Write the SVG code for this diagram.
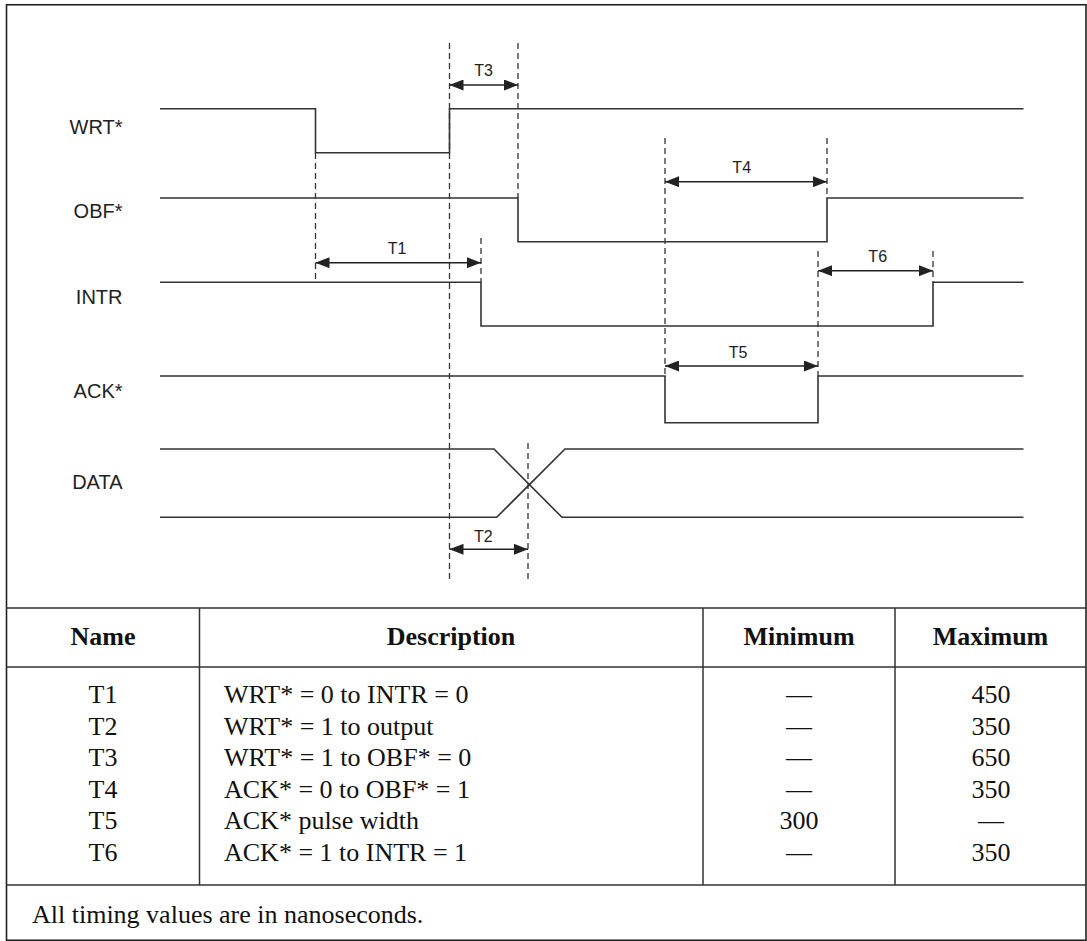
<svg xmlns="http://www.w3.org/2000/svg" width="1087" height="941" viewBox="0 0 1087 941">
<style>
.sig{fill:none;stroke:#333;stroke-width:1.6}
.dash{fill:none;stroke:#333;stroke-width:1.3;stroke-dasharray:6,4}
.arr{fill:none;stroke:#222;stroke-width:1.6;marker-start:url(#ah);marker-end:url(#ah)}
.lbl{font-family:"Liberation Sans",Arial,sans-serif;font-size:20px;fill:#222;text-anchor:end}
.tl{font-family:"Liberation Sans",Arial,sans-serif;font-size:16px;fill:#222;text-anchor:middle}
.grid{fill:none;stroke:#333;stroke-width:1.5}
.th{font-family:"Liberation Serif","Times New Roman",serif;font-size:26px;font-weight:bold;fill:#111;text-anchor:middle}
.td{font-family:"Liberation Serif","Times New Roman",serif;font-size:26px;fill:#111}
.c{text-anchor:middle}
</style>
<defs>
<marker id="ah" viewBox="0 0 14 11" refX="14" refY="5.5" markerWidth="14" markerHeight="11" markerUnits="userSpaceOnUse" orient="auto-start-reverse">
<path d="M0,0 L14,5.5 L0,11 Z" fill="#222"/>
</marker>
</defs>
<rect x="6.5" y="4.75" width="1079.5" height="935.5" fill="#fff" stroke="#222" stroke-width="1.6"/>

<g id="guides">
<line class="dash" x1="315.5" y1="153" x2="315.5" y2="282"/>
<line class="dash" x1="449.5" y1="43" x2="449.5" y2="583"/>
<line class="dash" x1="518" y1="43" x2="518" y2="198"/>
<line class="dash" x1="481" y1="238" x2="481" y2="282"/>
<line class="dash" x1="665" y1="138" x2="665" y2="376"/>
<line class="dash" x1="827" y1="138" x2="827" y2="198"/>
<line class="dash" x1="818" y1="251" x2="818" y2="376"/>
<line class="dash" x1="933" y1="251" x2="933" y2="282"/>
<line class="dash" x1="528" y1="443" x2="528" y2="583"/>
</g>

<g id="sig-wrt">
<text class="lbl" x="122.5" y="134.3">WRT*</text>
<path class="sig" d="M160,108.7 H315.5 V152.7 H449.5 V108.7 H1023.5"/>
</g>
<g id="sig-obf">
<text class="lbl" x="122.5" y="217.7">OBF*</text>
<path class="sig" d="M160,198 H518 V241.7 H827 V198 H1023.5"/>
</g>
<g id="sig-intr">
<text class="lbl" x="122.5" y="304">INTR</text>
<path class="sig" d="M160,282.3 H481 V326 H933 V282.3 H1023.5"/>
</g>
<g id="sig-ack">
<text class="lbl" x="122.5" y="398">ACK*</text>
<path class="sig" d="M160,376 H665 V422.7 H818 V376 H1023.5"/>
</g>
<g id="sig-data">
<text class="lbl" x="122.5" y="489">DATA</text>
<path class="sig" d="M160,449 H494 L562,517.3 H1023.5"/>
<path class="sig" d="M160,517.3 H496.7 L565,449 H1023.5"/>
</g>

<g id="connectors">
<line class="arr" x1="449.5" y1="85" x2="518" y2="85"/>
<line class="arr" x1="315.5" y1="262.7" x2="481" y2="262.7"/>
<line class="arr" x1="665" y1="181.7" x2="827" y2="181.7"/>
<line class="arr" x1="818" y1="270.7" x2="933" y2="270.7"/>
<line class="arr" x1="665" y1="366" x2="818" y2="366"/>
<line class="arr" x1="449.5" y1="549.3" x2="528" y2="549.3"/>
</g>
<g id="timing-labels">
<text class="tl" x="483.5" y="76.4">T3</text>
<text class="tl" x="397" y="254">T1</text>
<text class="tl" x="741.7" y="172.7">T4</text>
<text class="tl" x="877.7" y="262">T6</text>
<text class="tl" x="738" y="357.5">T5</text>
<text class="tl" x="483.3" y="541.7">T2</text>
</g>

<g id="table">
<line class="grid" x1="6.5" y1="608" x2="1086" y2="608"/>
<line class="grid" x1="6.5" y1="667" x2="1086" y2="667"/>
<line class="grid" x1="6.5" y1="885" x2="1086" y2="885"/>
<line class="grid" x1="199.5" y1="608" x2="199.5" y2="885"/>
<line class="grid" x1="703" y1="608" x2="703" y2="885"/>
<line class="grid" x1="895" y1="608" x2="895" y2="885"/>
<text class="th" x="103" y="645">Name</text>
<text class="th" x="451" y="645">Description</text>
<text class="th" x="799" y="645">Minimum</text>
<text class="th" x="990.5" y="645">Maximum</text>
<g class="td">
<text class="c" x="103" y="703">T1</text>
<text x="224" y="703">WRT* = 0 to INTR = 0</text>
<text class="c" x="799" y="703">—</text>
<text class="c" x="991" y="703">450</text>
<text class="c" x="103" y="734.6">T2</text>
<text x="224" y="734.6">WRT* = 1 to output</text>
<text class="c" x="799" y="734.6">—</text>
<text class="c" x="991" y="734.6">350</text>
<text class="c" x="103" y="766.2">T3</text>
<text x="224" y="766.2">WRT* = 1 to OBF* = 0</text>
<text class="c" x="799" y="766.2">—</text>
<text class="c" x="991" y="766.2">650</text>
<text class="c" x="103" y="797.8">T4</text>
<text x="224" y="797.8">ACK* = 0 to OBF* = 1</text>
<text class="c" x="799" y="797.8">—</text>
<text class="c" x="991" y="797.8">350</text>
<text class="c" x="103" y="829.4">T5</text>
<text x="224" y="829.4">ACK* pulse width</text>
<text class="c" x="799" y="829.4">300</text>
<text class="c" x="991" y="829.4">—</text>
<text class="c" x="103" y="861">T6</text>
<text x="224" y="861">ACK* = 1 to INTR = 1</text>
<text class="c" x="799" y="861">—</text>
<text class="c" x="991" y="861">350</text>
</g>
<text class="td" x="32" y="922.7">All timing values are in nanoseconds.</text>
</g>
</svg>
